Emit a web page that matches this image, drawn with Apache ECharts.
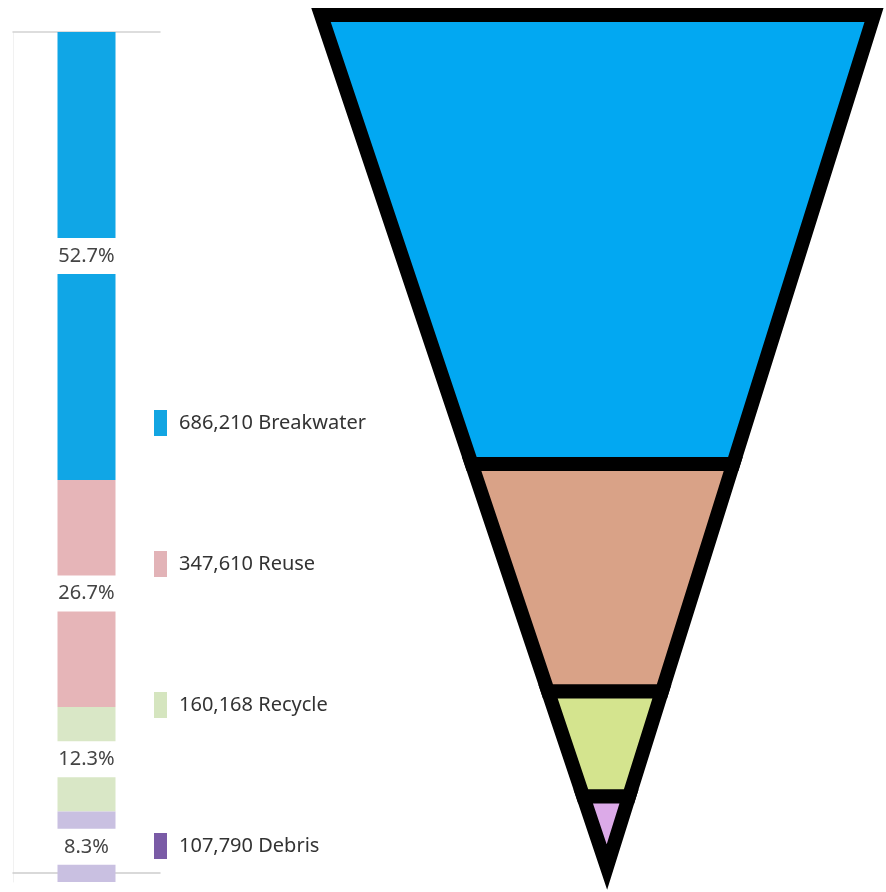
<!DOCTYPE html>
<html>
<head>
<meta charset="utf-8">
<style>
  html, body { margin: 0; padding: 0; background: #ffffff; }
  #chart { width: 886px; height: 892px; }
</style>
<script src="https://cdn.jsdelivr.net/npm/echarts@6/dist/echarts.min.js"></script>
</head>
<body>
<div id="chart"></div>
<script>
// Disposal routes and tonnage
const categories = ['Breakwater', 'Reuse', 'Recycle', 'Debris'];
const amounts = [686210, 347610, 160168, 107790];

// Palette
const barColors = ['#10a6e6', '#e6b5b8', '#d9e7c6', '#c9c0e1'];
const legendColors = ['#12a5e2', '#e2b3b7', '#d5e5bf', '#7a5ba6'];
const funnelColors = ['#02a8f2', '#d9a287', '#d4e48e', '#dcaae8'];

const total = amounts.reduce((a, b) => a + b, 0);
const starts = amounts.map((_, i) => amounts.slice(0, i).reduce((a, b) => a + b, 0));

// horizontal position of the funnel tip within its grid (0 = left edge, 1 = right edge)
const apexX = 0.517;

const chart = echarts.init(document.getElementById('chart'));

const barSeries = categories.map((name, i) => ({
  name: name,
  type: 'bar',
  stack: 'share',
  xAxisIndex: 0,
  yAxisIndex: 0,
  barWidth: 58,
  data: [amounts[i]],
  itemStyle: { color: barColors[i] },
  label: {
    show: true,
    position: 'inside',
    formatter: p => (p.value / total * 100).toFixed(1) + '%',
    fontFamily: 'Noto Sans',
    fontSize: 20,
    color: '#444444',
    backgroundColor: '#ffffff',
    padding: [8, 0],
    width: 64,
    align: 'center'
  }
}));

const funnelSeries = {
  name: 'Funnel',
  type: 'custom',
  coordinateSystem: 'cartesian2d',
  xAxisIndex: 2,
  yAxisIndex: 1,
  clip: false,
  data: categories.map((name, i) => ({
    name: name,
    value: [starts[i], starts[i] + amounts[i]],
    itemStyle: { color: funnelColors[i] }
  })),
  renderItem: function (params, api) {
    const s = api.value(0);
    const e = api.value(1);
    const leftAt = v => apexX * v / total;
    const rightAt = v => 1 - (1 - apexX) * v / total;
    const pts = [[leftAt(s), s], [rightAt(s), s]];
    if (e < total - 1e-6) {
      pts.push([rightAt(e), e], [leftAt(e), e]);
    } else {
      pts.push([apexX, total]);
    }
    return {
      type: 'polygon',
      shape: { points: pts.map(p => api.coord(p)) },
      style: {
        fill: api.visual('color'),
        stroke: '#000000',
        lineWidth: 14,
        lineJoin: 'miter'
      }
    };
  }
};

const option = {
  animation: false,
  backgroundColor: '#ffffff',
  grid: [
    { left: 13, top: 32, width: 147, height: 850 },
    { left: 321, top: 15, width: 553, height: 852 }
  ],
  xAxis: [
    {
      gridIndex: 0, type: 'category', data: ['total'], position: 'bottom', offset: -9,
      axisLine: { onZero: false, lineStyle: { color: '#cdcdcd', width: 1.5 } },
      axisTick: { show: false }, axisLabel: { show: false }
    },
    {
      gridIndex: 0, type: 'category', data: ['total'], position: 'top',
      axisLine: { onZero: false, lineStyle: { color: '#d2d2d2', width: 1.5 } },
      axisTick: { show: false }, axisLabel: { show: false }
    },
    { gridIndex: 1, type: 'value', min: 0, max: 1, show: false }
  ],
  yAxis: [
    {
      gridIndex: 0, type: 'value', min: 0, max: total, inverse: true,
      axisLine: { show: true, onZero: false, lineStyle: { color: '#f1f1f1' } },
      axisTick: { show: false }, axisLabel: { show: false }, splitLine: { show: false }
    },
    { gridIndex: 1, type: 'value', min: 0, max: total, inverse: true, show: false }
  ],
  legend: {
    orient: 'vertical',
    left: 149,
    top: 405,
    itemWidth: 13,
    itemHeight: 26,
    itemGap: 115,
    icon: 'rect',
    selectedMode: false,
    data: categories.map((name, i) => ({ name: name, itemStyle: { color: legendColors[i] } })),
    formatter: name => amounts[categories.indexOf(name)].toLocaleString('en-US') + ' ' + name,
    textStyle: {
      fontFamily: 'Noto Sans',
      fontSize: 20,
      color: '#333333',
      padding: [0, 0, 0, 7]
    }
  },
  series: barSeries.concat([funnelSeries])
};

chart.setOption(option);
</script>
</body>
</html>
